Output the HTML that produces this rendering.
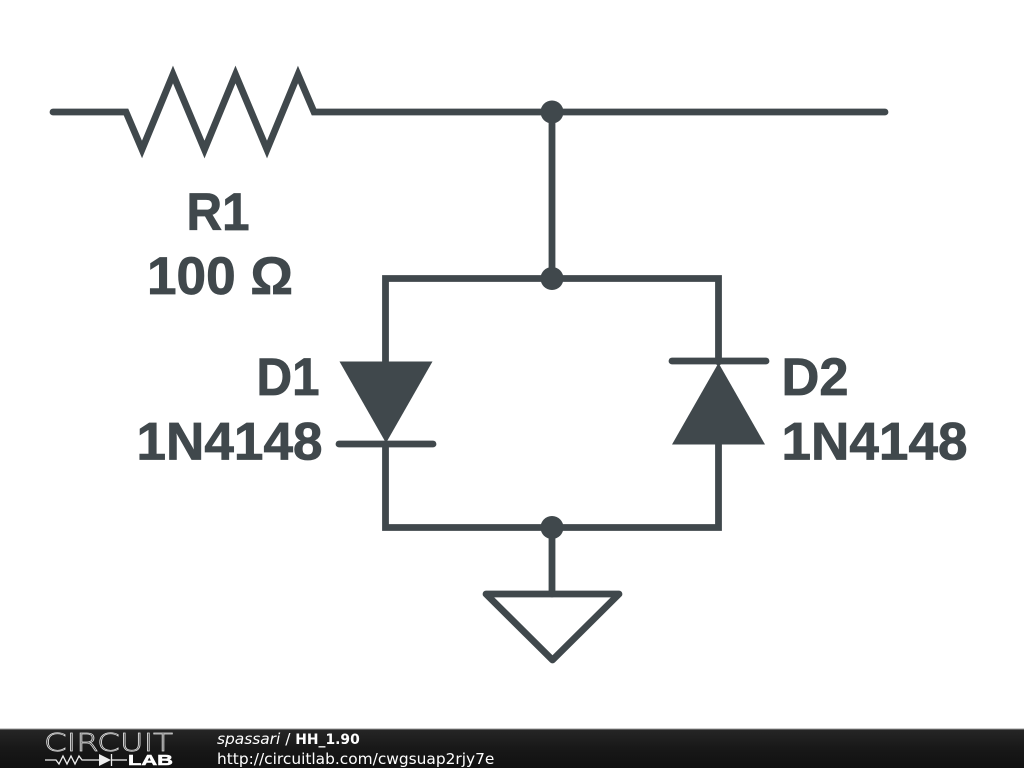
<!DOCTYPE html>
<html>
<head>
<meta charset="utf-8">
<style>
html,body{margin:0;padding:0;background:#fff;width:1024px;height:768px;overflow:hidden}
svg{display:block}
</style>
</head>
<body>
<svg width="1024" height="768" viewBox="0 0 1024 768" xmlns="http://www.w3.org/2000/svg">
<defs>
<linearGradient id="bar" x1="0" y1="0" x2="0" y2="1">
<stop offset="0" stop-color="#262626"/>
<stop offset="0.5" stop-color="#181818"/>
<stop offset="1" stop-color="#111"/>
</linearGradient>
</defs>
<rect width="1024" height="768" fill="#fff"/>
<g fill="none" stroke="#40484c" stroke-width="6.800" stroke-linecap="round" stroke-linejoin="miter">
<polyline points="53,112 126,112 142,149.500 173,74.500 204.500,149.500 235.500,74.500 267,149.500 298,74.500 314,112 885,112"/>
<line x1="552" y1="112" x2="552" y2="278.500"/>
<polyline points="385.500,362 385.500,278.500 718.500,278.500 718.500,362"/>
<polyline points="385.500,444 385.500,527.500 718.500,527.500 718.500,444"/>
<line x1="552" y1="527.500" x2="552" y2="594"/>
<polygon points="486,594 619,594 552.500,660" stroke-linejoin="round"/>
<line x1="339" y1="444" x2="433" y2="444"/>
<line x1="672" y1="361" x2="766" y2="361"/>
</g>
<g fill="#40484c">
<polygon points="339.500,361.500 432.500,361.500 386,443"/>
<polygon points="672,444.500 765,444.500 718.500,363"/>
<circle cx="552" cy="112" r="11.500"/>
<circle cx="552" cy="278.500" r="11.500"/>
<circle cx="552" cy="527.500" r="11.500"/>
</g>
<g fill="#40484c" stroke="#40484c" stroke-width="0.800" font-family="'Liberation Sans',sans-serif" font-weight="bold" font-size="53">
<text x="186.500" y="230" textLength="63" lengthAdjust="spacingAndGlyphs">R1</text>
<text x="147" y="294" textLength="146" lengthAdjust="spacingAndGlyphs">100 Ω</text>
<text x="256.500" y="395" textLength="63" lengthAdjust="spacingAndGlyphs">D1</text>
<text x="136.500" y="459.500" textLength="186" lengthAdjust="spacingAndGlyphs">1N4148</text>
<text x="781.500" y="395" textLength="67" lengthAdjust="spacingAndGlyphs">D2</text>
<text x="781.500" y="459.500" textLength="186" lengthAdjust="spacingAndGlyphs">1N4148</text>
</g>
<rect x="0" y="729" width="1024" height="39" fill="url(#bar)"/>
<rect x="0" y="728.500" width="1024" height="1" fill="#999"/>
<text x="44" y="751" font-family="'DejaVu Sans',sans-serif" font-size="24.500" font-weight="200" fill="none" stroke="#ddd" stroke-width="0.700" textLength="129" lengthAdjust="spacingAndGlyphs">CIRCUIT</text>
<g fill="none" stroke="#eee" stroke-width="1.300">
<polyline points="45,760 56,760 59,764 63,756 67,764 71,756 75,764 79,756 82,760 99,760"/>
<line x1="112" y1="760" x2="127" y2="760"/>
<line x1="111.500" y1="754" x2="111.500" y2="766"/>
</g>
<polygon points="99,754 99,766 111,760" fill="#eee"/>
<text x="128" y="765" font-family="'Liberation Sans',sans-serif" font-weight="bold" font-size="14.500" fill="#fff" stroke="#fff" stroke-width="0.500" textLength="45" lengthAdjust="spacingAndGlyphs">LAB</text>
<text x="217" y="744" font-family="'DejaVu Sans',sans-serif" font-size="15.400" fill="#fff"><tspan font-style="italic">spassari</tspan> / <tspan font-weight="bold" font-size="13.900">HH_1.90</tspan></text>
<text x="217" y="764" font-family="'DejaVu Sans',sans-serif" font-size="15.400" fill="#fff">http://circuitlab.com/cwgsuap2rjy7e</text>
</svg>
</body>
</html>
